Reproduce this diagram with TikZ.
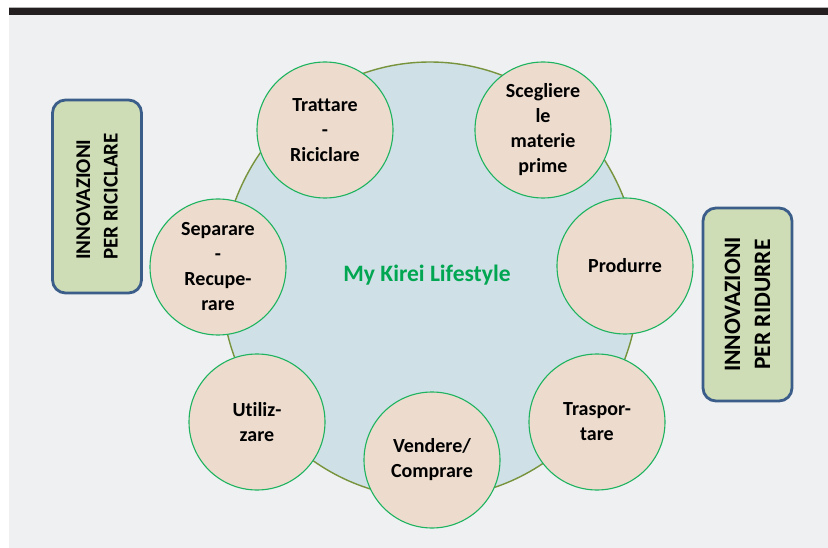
\documentclass[tikz,border=0pt]{standalone}
\usepackage{fontspec}
\setmainfont{Carlito}[Ligatures=NoCommon]
\usetikzlibrary{shapes.geometric}
\definecolor{pagebg}{HTML}{EFF0F2}
\definecolor{topbar}{HTML}{231F20}
\definecolor{hubfill}{HTML}{CFE0E6}
\definecolor{hubline}{HTML}{77933C}
\definecolor{stagefill}{HTML}{EDDCCE}
\definecolor{stageline}{HTML}{1DB35F}
\definecolor{kirei}{HTML}{00A651}
\definecolor{boxfill}{HTML}{CEDDB6}
\definecolor{boxline}{HTML}{3A5D89}
\tikzset{
  hub/.style={ellipse, draw=hubline, fill=hubfill, line width=1.4pt, minimum width=418pt, minimum height=436pt, inner sep=0pt},
  stage/.style={circle, draw=stageline, fill=stagefill, line width=1.1pt, minimum size=136pt, inner sep=0pt,
    align=center, font=\fontsize{20}{25}\selectfont\bfseries},
  innov/.style={rectangle, rounded corners=13pt, draw=boxline, fill=boxfill, line width=2.8pt, rotate=90,
    minimum width=193pt, minimum height=89pt, inner sep=0pt}
}
\begin{document}
\begin{tikzpicture}[x=1pt, y=-1pt]
  \useasboundingbox (0,0) rectangle (828,548);
  % page background and header bar
  \fill[pagebg] (9,15) rectangle (828,548);
  \fill[topbar] (9,8) rectangle (828,15.5);
  \draw[gray!60, line width=0.6pt] (9,7.6) -- (828,7.6);

  % central lifestyle circle
  \node[hub] (hub) at (430,280) {};
  \node[text=kirei, font=\fontsize{23.5}{28}\selectfont\bfseries] (title) at (427,275) {My Kirei Lifestyle};

  % stages of the cycle
  \node[stage] (treat)   at (325,130) {Trattare\\-\\Riciclare};
  \node[stage] (choose)  at (543,130) {Scegliere\\le\\materie\\prime};
  \node[stage] (produce) at (625,266) {Produrre};
  \node[stage] (ship)    at (597,422) {Traspor-\\tare};
  \node[stage] (trade)   at (432,460) {Vendere/\\Comprare};
  \node[stage] (use)     at (257,422) {Utiliz-\\zare};
  \node[stage] (sort)    at (218,267) {Separare\\-\\Recupe-\\rare};

  % side labels
  \node[innov, align=left, font=\fontsize{21}{27.5}\selectfont\bfseries] (recycle) at (97,196.5)
    {INNOVAZIONI\\PER RICICLARE};
  \node[innov, align=center, font=\fontsize{23.5}{30}\selectfont\bfseries] (reduce) at (747.5,304.5)
    {INNOVAZIONI\\PER RIDURRE};
\end{tikzpicture}
\end{document}
